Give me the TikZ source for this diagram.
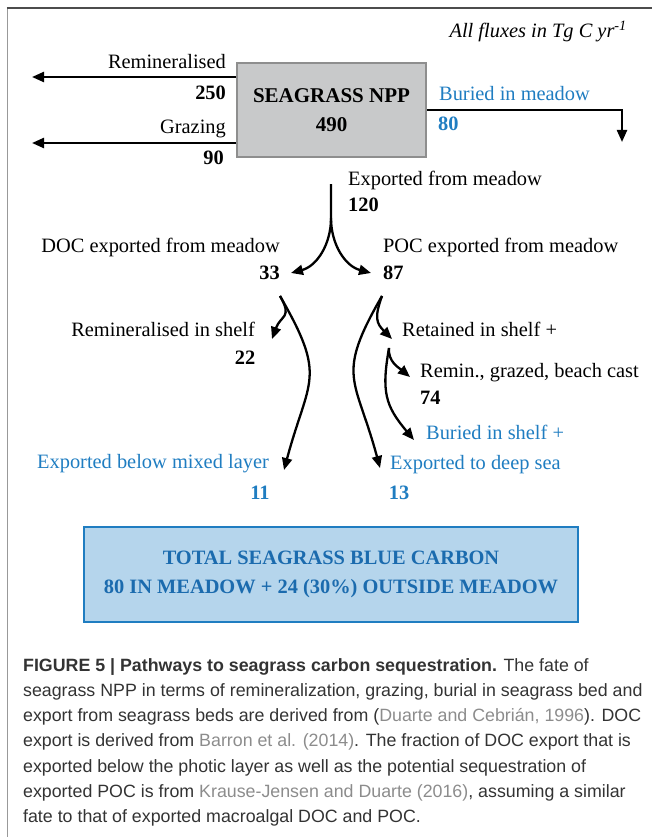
\documentclass[tikz,border=0pt]{standalone}
\usepackage{fontspec}
\setmainfont{Liberation Serif}
\newfontfamily\capfont{Liberation Sans}
\usetikzlibrary{positioning}
\usetikzlibrary{arrows.meta}
\definecolor{npp}{HTML}{C8C9CA}
\definecolor{nppline}{HTML}{8E8E8E}
\definecolor{sea}{HTML}{1F7DC1}
\definecolor{seafill}{HTML}{B5D5EC}
\definecolor{seadark}{HTML}{1B6BAE}
\definecolor{captext}{HTML}{333333}
\definecolor{cite}{HTML}{8C8C8C}
\newcommand\labsize{\fontsize{20.4}{24}\selectfont}
\newcommand\capsize{\fontsize{17.8}{25.3}\selectfont}
\tikzstyle{L} = [font=\labsize,inner sep=0pt,text height=0.54em,text depth=0em]
\tikzstyle{N} = [L,font=\labsize\bfseries]
\tikzstyle{B} = [L,text=sea]
\tikzstyle{BN} = [N,text=sea]
\tikzstyle{R} = [rectangle,draw=nppline,fill=npp,line width=2pt,minimum width=189pt,minimum height=94pt]
\tikzset{>={Triangle[length=12pt,width=10pt]}}

\begin{document}
\begin{tikzpicture}[x=1pt,y=1pt,line width=2.3pt]
  \useasboundingbox (0,0) rectangle (652,-837);
  \draw [line width=1.3pt,gray!80] (7.5,-837) -- (7.5,-8);
  \draw [line width=1.3pt,black!70] (6.85,-8) -- (652,-8);

  \node [L,anchor=east,font=\labsize\itshape] (n0) at (628,-35) {All fluxes in Tg C yr\textsuperscript{-1}};

  \node [R,align=center,font=\fontsize{21}{29}\selectfont\bfseries] (r1) at (331.5,-110) {SEAGRASS NPP\\490};

  % losses from the meadow
  \node [L,anchor=east] (n1) at (227,-66) {Remineralised};
  \node [N,anchor=east] (n2) at (227,-97) {250};
  \node [L,anchor=east] (n3) at (227,-131) {Grazing};
  \node [N,anchor=east] (n4) at (225,-162) {90};
  \coordinate (c1) at (32,-77);
  \coordinate (c2) at (32,-143);
  \draw [->] (r1.west |- c1) -- (c1);
  \draw [->] (r1.west |- c2) -- (c2);

  \node [B,anchor=west] (n5) at (438,-98) {Buried in meadow};
  \node [BN,anchor=west] (n6) at (437,-128) {80};
  \coordinate (c3) at (622,-142);
  \draw [->] (r1.east) -| (c3);

  % export
  \node [L,anchor=west] (n7) at (347,-183) {Exported from meadow};
  \node [N,anchor=west] (n8) at (347,-209) {120};
  \node [L,anchor=east] (n9) at (281,-250) {DOC exported from meadow};
  \node [N,anchor=east] (n10) at (281,-277) {33};
  \node [L,anchor=west] (n11) at (382,-250) {POC exported from meadow};
  \node [N,anchor=west] (n12) at (382,-277) {87};
  \coordinate (c4) at (331,-184);
  \coordinate (c5) at (331,-218);
  \coordinate (c6) at (291,-273);
  \coordinate (c7) at (371,-273);
  \draw [->] (c4) -- (c5) to [out=-90,in=15] (c6);
  \draw [->] (c5) to [out=-90,in=165] (c7);

  % DOC
  \node [L,anchor=east] (n13) at (256,-334) {Remineralised in shelf};
  \node [N] (n14) at (245,-362) {22};
  \node [B,anchor=east] (n15) at (270,-466) {Exported below mixed layer};
  \node [BN] (n16) at (260,-497) {11};
  \coordinate (c8) at (280,-296);
  \coordinate (c9) at (272,-339);
  \coordinate (c10) at (284,-470);
  \draw [->] (c8) to [out=-60,in=70,looseness=1.5] (c9);
  \draw [->] (c8) to [out=-60,in=75,looseness=1.4] (c10);

  % POC
  \node [L,anchor=west] (n17) at (401,-334) {Retained in shelf +};
  \node [L,anchor=west] (n18) at (419,-375) {Remin., grazed, beach cast};
  \node [N,anchor=west] (n19) at (419,-402) {74};
  \node [B,anchor=west] (n20) at (425,-437) {Buried in shelf +};
  \node [B,anchor=west] (n21) at (389,-467) {Exported to deep sea};
  \node [BN] (n22) at (399,-497) {13};
  \coordinate (c11) at (382,-296);
  \coordinate (c12) at (392,-339);
  \coordinate (c13) at (380,-468);
  \coordinate (c14) at (389,-348);
  \coordinate (c15) at (410,-377);
  \coordinate (c16) at (414,-440);
  \draw [->] (c11) to [out=-110,in=135,looseness=1.3] (c12);
  \draw [->] (c11) to [out=-120,in=105,looseness=1.4] (c13);
  \draw [->] (c14) to [out=-95,in=140] (c15);
  \draw [->] (c14) to [out=-100,in=130,looseness=1.2] (c16);

  \node [rectangle,draw=sea,fill=seafill,line width=2.5pt,minimum width=494pt,minimum height=95pt,align=center,text=seadark,font=\fontsize{20.4}{29}\selectfont\bfseries] (r2) at (331,-574.5) {TOTAL SEAGRASS BLUE CARBON\\80 IN MEADOW + 24 (30\%) OUTSIDE MEADOW};

  \node [anchor=base west,align=left,inner sep=0pt,font=\capfont\capsize,text=captext] (cap) at (22,-822.8) {\textbf{FIGURE 5 | Pathways to seagrass carbon sequestration.} The fate of\\
    seagrass NPP in terms of remineralization, grazing, burial in seagrass bed and\\
    export from seagrass beds are derived from ({\color{cite}Duarte and Cebrián, 1996}). DOC\\
    export is derived from {\color{cite}Barron et al. (2014)}. The fraction of DOC export that is\\
    exported below the photic layer as well as the potential sequestration of\\
    exported POC is from {\color{cite}Krause-Jensen and Duarte (2016)}, assuming a similar\\
    fate to that of exported macroalgal DOC and POC.};
\end{tikzpicture}
\end{document}
